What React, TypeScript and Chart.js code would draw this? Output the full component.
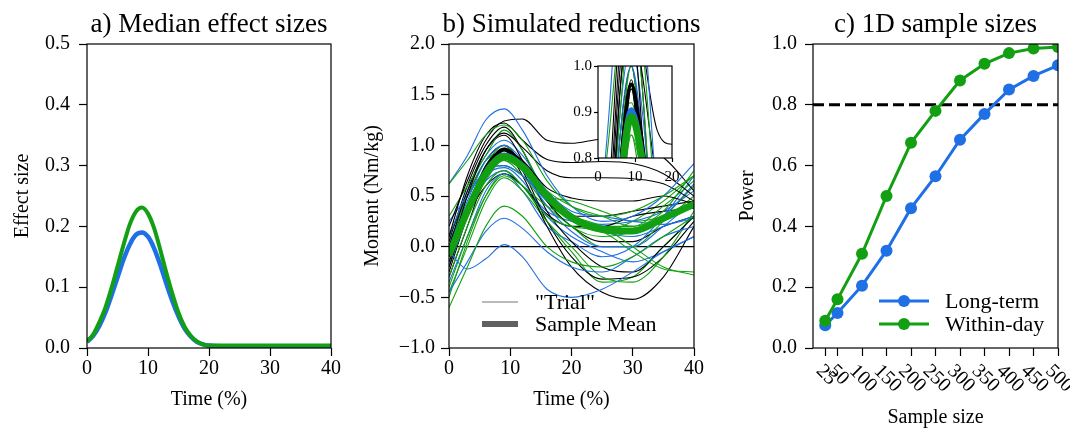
import React, { useEffect, useRef } from 'react';
import { Chart, registerables } from 'chart.js';

Chart.register(...registerables);

const FONT = '"Liberation Serif", "Times New Roman", serif';
const BLUE = '#1f6fe5';
const GREEN = '#12a012';

// ---------- Panel a: median effect sizes ----------
const aTime = [0, 1, 2, 3, 4, 5, 6, 7, 8, 9, 10, 11, 12, 13, 14, 15, 16, 17, 18, 19, 20, 22, 25, 30, 35, 40];
const aLongTerm = [0.010, 0.020, 0.036, 0.058, 0.086, 0.116, 0.146, 0.170, 0.186, 0.190, 0.183, 0.164, 0.137, 0.106, 0.077, 0.052, 0.032, 0.019, 0.010, 0.006, 0.004, 0.003, 0.003, 0.003, 0.003, 0.003];
const aWithinDay = [0.011, 0.022, 0.042, 0.066, 0.098, 0.134, 0.170, 0.203, 0.224, 0.231, 0.221, 0.197, 0.162, 0.124, 0.089, 0.058, 0.035, 0.020, 0.011, 0.006, 0.004, 0.004, 0.004, 0.004, 0.004, 0.004];

// ---------- Panel b: simulated reductions ----------
const bTime = [0, 3, 6, 9, 12, 16, 20, 25, 30, 35, 40];
const bBlackTrials = [
  [0.20, 0.65, 1.05, 1.24, 1.26, 1.05, 1.02, 1.06, 1.00, 0.88, 0.55],
  [0.10, 0.70, 1.10, 1.22, 1.05, 0.86, 0.83, 0.84, 0.82, 0.72, 0.50],
  [-0.10, 0.50, 0.95, 1.12, 0.98, 0.75, 0.68, 0.68, 0.67, 0.62, 0.45],
  [-0.20, 0.35, 0.80, 0.95, 0.85, 0.58, 0.48, 0.45, 0.45, 0.50, 0.42],
  [0.00, 0.55, 0.95, 1.10, 0.85, 0.35, 0.05, -0.20, -0.25, 0.00, 0.30],
  [-0.30, 0.20, 0.70, 0.95, 0.70, 0.20, -0.20, -0.45, -0.52, -0.30, 0.20],
  [-0.25, 0.30, 0.75, 0.97, 0.75, 0.25, -0.10, -0.32, -0.30, -0.10, 0.25],
  [0.05, 0.60, 1.00, 1.18, 0.95, 0.45, 0.20, 0.05, 0.05, 0.20, 0.30],
  [-0.15, 0.30, 0.60, 0.72, 0.60, 0.32, 0.20, 0.20, 0.30, 0.35, 0.38],
  [0.10, 0.50, 0.85, 1.00, 0.80, 0.45, 0.30, 0.30, 0.35, 0.40, 0.45],
];
const bBlueTrials = [
  [0.62, 0.90, 1.25, 1.36, 1.15, 0.70, 0.40, 0.25, 0.30, 0.50, 0.82],
  [-0.05, -0.22, -0.12, 0.02, -0.10, -0.42, -0.50, -0.42, -0.25, -0.05, 0.10],
  [-0.45, -0.15, 0.15, 0.28, 0.18, -0.05, -0.20, -0.25, -0.10, 0.10, 0.20],
  [0.25, 0.50, 0.75, 0.80, 0.70, 0.45, 0.30, 0.20, 0.15, 0.30, 0.62],
  [-0.20, 0.30, 0.70, 0.90, 0.75, 0.40, 0.15, 0.00, 0.00, 0.20, 0.45],
  [0.00, 0.45, 0.85, 1.00, 0.85, 0.50, 0.30, 0.15, 0.10, 0.20, 0.30],
  [-0.35, 0.10, 0.55, 0.72, 0.55, 0.20, 0.05, -0.10, 0.00, 0.30, 0.70],
  [0.10, 0.55, 0.90, 1.05, 0.90, 0.55, 0.35, 0.30, 0.25, 0.22, 0.28],
  [-0.10, 0.35, 0.70, 0.78, 0.65, 0.30, 0.10, -0.05, -0.15, -0.05, 0.10],
  [0.05, 0.40, 0.65, 0.75, 0.60, 0.35, 0.25, 0.22, 0.25, 0.35, 0.55],
];
const bGreenTrials = [
  [0.62, 0.85, 1.10, 1.20, 1.05, 0.65, 0.40, 0.30, 0.35, 0.50, 0.70],
  [-0.60, -0.20, 0.20, 0.40, 0.30, 0.00, -0.15, -0.20, -0.10, 0.10, 0.30],
  [-0.40, 0.10, 0.50, 0.70, 0.60, 0.40, 0.30, 0.20, 0.00, -0.20, -0.28],
  [-0.30, 0.20, 0.60, 0.75, 0.60, 0.30, 0.20, 0.15, -0.05, -0.22, -0.25],
  [0.30, 0.60, 0.90, 1.15, 0.95, 0.50, 0.30, 0.20, 0.20, 0.40, 0.65],
  [-0.20, 0.30, 0.70, 0.85, 0.70, 0.40, 0.20, 0.00, 0.00, 0.25, 0.50],
  [-0.45, 0.00, 0.45, 0.68, 0.55, 0.25, 0.00, -0.30, -0.35, -0.10, 0.35],
  [0.00, 0.50, 0.85, 0.92, 0.80, 0.55, 0.40, 0.30, 0.20, 0.35, 0.75],
  [-0.10, 0.40, 0.80, 1.00, 0.80, 0.45, 0.20, 0.10, 0.15, 0.30, 0.60],
  [0.10, 0.50, 0.75, 0.80, 0.70, 0.50, 0.45, 0.35, 0.25, 0.30, 0.45],
  [-0.50, 0.05, 0.50, 0.72, 0.60, 0.25, -0.05, -0.35, -0.30, 0.00, 0.30],
  [-0.15, 0.30, 0.65, 0.85, 0.75, 0.45, 0.25, 0.15, 0.25, 0.45, 0.70],
];
const bBlackMean = [-0.08, 0.37, 0.75, 0.96, 0.81, 0.51, 0.30, 0.17, 0.16, 0.28, 0.42];
const bBlueMean = [-0.08, 0.36, 0.74, 0.905, 0.80, 0.51, 0.30, 0.17, 0.16, 0.28, 0.42];
const bGreenMean = [-0.08, 0.35, 0.72, 0.89, 0.79, 0.50, 0.29, 0.17, 0.155, 0.28, 0.42];

// ---------- Panel c: 1D sample sizes ----------
const cSampleSizes = [25, 50, 100, 150, 200, 250, 300, 350, 400, 450, 500];
const cTickLabels = ['25', '50', '100', '150', '200', '250', '300', '350', '400', '450', '500'];
const cLongTerm = [0.075, 0.115, 0.205, 0.32, 0.46, 0.565, 0.685, 0.77, 0.85, 0.895, 0.93];
const cWithinDay = [0.09, 0.16, 0.31, 0.50, 0.675, 0.78, 0.88, 0.935, 0.97, 0.985, 0.99];
const cThreshold = 0.8;

const pts = (xs: number[], ys: number[]) => xs.map((x, i) => ({ x, y: ys[i] }));

const gridOpts = (len: number) => ({
  display: true,
  drawOnChartArea: false,
  drawTicks: true,
  tickLength: len,
  color: '#000',
  tickColor: '#000',
  tickWidth: 1.2,
});

const tickOpts = (size: number, padding: number, fmt: (v: number) => string, step?: number) => ({
  font: { family: FONT, size },
  color: '#000',
  padding,
  stepSize: step,
  autoSkip: false,
  maxRotation: 0,
  minRotation: 0,
  callback: (v: any) => fmt(Number(v)),
});

const fmt1 = (v: number) => v.toFixed(1).replace('-', '\u2212');
const fmt0 = (v: number) => String(Math.round(v));

const axisTitle = (text: string, pad: { top?: number; bottom?: number }) => ({
  display: true,
  text,
  color: '#000',
  font: { family: FONT, size: 20 },
  padding: { top: pad.top ?? 0, bottom: pad.bottom ?? 0 },
});

const frameAndTitle = (title: string | null, extra?: (chart: any) => void) => ({
  id: 'deco',
  afterDraw(chart: any) {
    const { ctx, chartArea } = chart;
    const { left, top, right, bottom } = chartArea;
    ctx.save();
    ctx.strokeStyle = '#000';
    ctx.lineWidth = 1.2;
    ctx.strokeRect(left, top, right - left, bottom - top);
    if (title) {
      ctx.fillStyle = '#000';
      ctx.font = `27px ${FONT}`;
      ctx.textAlign = 'center';
      ctx.textBaseline = 'alphabetic';
      ctx.fillText(title, (left + right) / 2, 32);
    }
    if (extra) extra(chart);
    ctx.restore();
  },
});

const whiteBg = {
  id: 'whiteBg',
  beforeDraw(chart: any) {
    const { ctx, chartArea } = chart;
    ctx.save();
    ctx.fillStyle = '#fff';
    ctx.fillRect(chartArea.left, chartArea.top, chartArea.right - chartArea.left, chartArea.bottom - chartArea.top);
    ctx.restore();
  },
};

const baseOptions = (padding: any) => ({
  responsive: false,
  animation: false as const,
  devicePixelRatio: 1,
  events: [] as any[],
  layout: { padding, autoPadding: false },
  plugins: { legend: { display: false }, tooltip: { enabled: false }, title: { display: false } },
});

function panelBDatasets(thin: number) {
  const ds: any[] = [];
  const mk = (ys: number[], color: string, width: number) => ({
    data: pts(bTime, ys),
    borderColor: color,
    borderWidth: width,
    pointRadius: 0,
    cubicInterpolationMode: 'monotone',
    fill: false,
  });
  ds.push(mk(bGreenMean, GREEN, 7));
  ds.push(mk(bBlueMean, BLUE, 5));
  ds.push(mk(bBlackMean, '#000', 4));
  const n = Math.max(bBlackTrials.length, bBlueTrials.length, bGreenTrials.length);
  for (let i = 0; i < n; i++) {
    if (bGreenTrials[i]) ds.push(mk(bGreenTrials[i], GREEN, thin));
    if (bBlueTrials[i]) ds.push(mk(bBlueTrials[i], BLUE, thin));
    if (bBlackTrials[i]) ds.push(mk(bBlackTrials[i], '#000', thin));
  }
  return ds;
}

export default function App() {
  const refA = useRef<HTMLCanvasElement>(null);
  const refB = useRef<HTMLCanvasElement>(null);
  const refC = useRef<HTMLCanvasElement>(null);
  const refI = useRef<HTMLCanvasElement>(null);

  useEffect(() => {
    const charts: Chart[] = [];

    // Panel a
    charts.push(
      new Chart(refA.current as HTMLCanvasElement, {
        type: 'line',
        data: {
          datasets: [
            { data: pts(aTime, aWithinDay), borderColor: GREEN, borderWidth: 4, pointRadius: 0, cubicInterpolationMode: 'monotone', fill: false },
            { data: pts(aTime, aLongTerm), borderColor: BLUE, borderWidth: 4.5, pointRadius: 0, cubicInterpolationMode: 'monotone', fill: false },
          ],
        },
        options: {
          ...baseOptions({ top: 44, right: 29, left: 0, bottom: 0 }),
          scales: {
            x: {
              type: 'linear', min: 0, max: 40,
              ticks: tickOpts(20, 1, fmt0, 10),
              grid: gridOpts(8), border: { display: false },
              title: axisTitle('Time (%)', { bottom: 21 }),
              afterFit: (s: any) => { s.height = 85; },
            },
            y: {
              type: 'linear', min: 0, max: 0.5,
              ticks: tickOpts(20, 9, fmt1, 0.1),
              grid: gridOpts(8), border: { display: false },
              title: axisTitle('Effect size', { top: 11 }),
              afterFit: (s: any) => { s.width = 87; },
            },
          },
        } as any,
        plugins: [frameAndTitle('a) Median effect sizes')],
      })
    );

    // Panel b
    const legendB = (chart: any) => {
      const ctx = chart.ctx;
      ctx.lineCap = 'butt';
      ctx.strokeStyle = '#777';
      ctx.lineWidth = 1.2;
      ctx.beginPath(); ctx.moveTo(122, 302); ctx.lineTo(158, 302); ctx.stroke();
      ctx.strokeStyle = '#606060';
      ctx.lineWidth = 6;
      ctx.beginPath(); ctx.moveTo(122, 324); ctx.lineTo(158, 324); ctx.stroke();
      ctx.fillStyle = '#000';
      ctx.font = `22px ${FONT}`;
      ctx.textAlign = 'left';
      ctx.textBaseline = 'alphabetic';
      ctx.fillText('"Trial"', 175, 309);
      ctx.fillText('Sample Mean', 175, 331);
    };
    const dsB = panelBDatasets(1.1);
    dsB.push({ data: [{ x: 0, y: 0 }, { x: 40, y: 0 }], borderColor: '#000', borderWidth: 1.2, pointRadius: 0, fill: false });
    charts.push(
      new Chart(refB.current as HTMLCanvasElement, {
        type: 'line',
        data: { datasets: dsB },
        options: {
          ...baseOptions({ top: 44, right: 16, left: 0, bottom: 0 }),
          scales: {
            x: {
              type: 'linear', min: 0, max: 40,
              ticks: tickOpts(20, 1, fmt0, 10),
              grid: gridOpts(8), border: { display: false },
              title: axisTitle('Time (%)', { bottom: 21 }),
              afterFit: (s: any) => { s.height = 85; },
            },
            y: {
              type: 'linear', min: -1, max: 2,
              ticks: tickOpts(20, 6, fmt1, 0.5),
              grid: gridOpts(8), border: { display: false },
              title: axisTitle('Moment (Nm/kg)', { top: 1 }),
              afterFit: (s: any) => { s.width = 89; },
            },
          },
        } as any,
        plugins: [frameAndTitle('b) Simulated reductions', legendB)],
      })
    );

    // Inset of panel b
    charts.push(
      new Chart(refI.current as HTMLCanvasElement, {
        type: 'line',
        data: { datasets: panelBDatasets(1.1) },
        options: {
          ...baseOptions({ top: 16, right: 18, left: 0, bottom: 0 }),
          scales: {
            x: {
              type: 'linear', min: 0, max: 20,
              ticks: tickOpts(15, 6, fmt0, 10),
              grid: gridOpts(4), border: { display: false },
              afterFit: (s: any) => { s.height = 37; },
            },
            y: {
              type: 'linear', min: 0.8, max: 1.0,
              ticks: tickOpts(15, 2, fmt1, 0.1),
              grid: gridOpts(4), border: { display: false },
              afterFit: (s: any) => { s.width = 38; },
            },
          },
        } as any,
        plugins: [whiteBg, frameAndTitle(null)],
      })
    );

    // Panel c
    const decoC = (chart: any) => {
      const ctx = chart.ctx;
      const xs = chart.scales.x;
      ctx.fillStyle = '#000';
      ctx.font = `20px ${FONT}`;
      cSampleSizes.forEach((v, i) => {
        const label = cTickLabels[i];
        const px = xs.getPixelForValue(v);
        const w = ctx.measureText(label).width;
        const bh = (w + 14) * Math.SQRT1_2;
        ctx.save();
        ctx.translate(px + 1, 363 + bh / 2);
        ctx.rotate(Math.PI / 4);
        ctx.textAlign = 'center';
        ctx.textBaseline = 'middle';
        ctx.fillText(label, 0, 0);
        ctx.restore();
      });
      const rows = [
        { label: 'Long-term', color: BLUE, y: 301 },
        { label: 'Within-day', color: GREEN, y: 324 },
      ];
      rows.forEach((r) => {
        ctx.strokeStyle = r.color;
        ctx.lineWidth = 3;
        ctx.beginPath(); ctx.moveTo(169, r.y); ctx.lineTo(219, r.y); ctx.stroke();
        ctx.fillStyle = r.color;
        ctx.beginPath(); ctx.arc(194, r.y, 6, 0, Math.PI * 2); ctx.fill();
        ctx.fillStyle = '#000';
        ctx.font = `22px ${FONT}`;
        ctx.textAlign = 'left';
        ctx.textBaseline = 'alphabetic';
        ctx.fillText(r.label, 235, r.y + 7);
      });
    };
    charts.push(
      new Chart(refC.current as HTMLCanvasElement, {
        type: 'line',
        data: {
          datasets: [
            { data: pts(cSampleSizes, cWithinDay), borderColor: GREEN, backgroundColor: GREEN, borderWidth: 3, pointRadius: 6, pointBorderWidth: 0, pointBackgroundColor: GREEN, tension: 0, fill: false },
            { data: pts(cSampleSizes, cLongTerm), borderColor: BLUE, backgroundColor: BLUE, borderWidth: 3, pointRadius: 6, pointBorderWidth: 0, pointBackgroundColor: BLUE, tension: 0, fill: false },
            { data: [{ x: 0, y: cThreshold }, { x: 500, y: cThreshold }], borderColor: '#000', borderWidth: 3, borderDash: [11, 5], pointRadius: 0, fill: false },
          ],
        },
        options: {
          ...baseOptions({ top: 44, right: 12, left: 0, bottom: 0 }),
          scales: {
            x: {
              type: 'linear', min: 0, max: 500,
              afterBuildTicks: (s: any) => { s.ticks = cSampleSizes.map((v) => ({ value: v })); },
              ticks: { display: false },
              grid: gridOpts(8), border: { display: false },
              title: axisTitle('Sample size', { bottom: 3 }),
              afterFit: (s: any) => { s.height = 85; },
            },
            y: {
              type: 'linear', min: 0, max: 1,
              ticks: tickOpts(20, 8, fmt1, 0.2),
              grid: gridOpts(8), border: { display: false },
              title: axisTitle('Power', { top: 26 }),
              afterFit: (s: any) => { s.width = 103; },
            },
          },
        } as any,
        plugins: [frameAndTitle('c) 1D sample sizes', decoC)],
      })
    );

    return () => {
      charts.forEach((c) => c.destroy());
    };
  }, []);

  const abs = (left: number, top: number): React.CSSProperties => ({ position: 'absolute', left, top });

  return (
    <div style={{ position: 'absolute', left: 0, top: 0, width: 1070, height: 433, background: '#fff', overflow: 'hidden' }}>
      <canvas ref={refA} width={360} height={433} style={abs(0, 0)} />
      <canvas ref={refB} width={350} height={433} style={abs(360, 0)} />
      <canvas ref={refC} width={360} height={433} style={abs(710, 0)} />
      <canvas ref={refI} width={130} height={145} style={abs(560, 50)} />
    </div>
  );
}
